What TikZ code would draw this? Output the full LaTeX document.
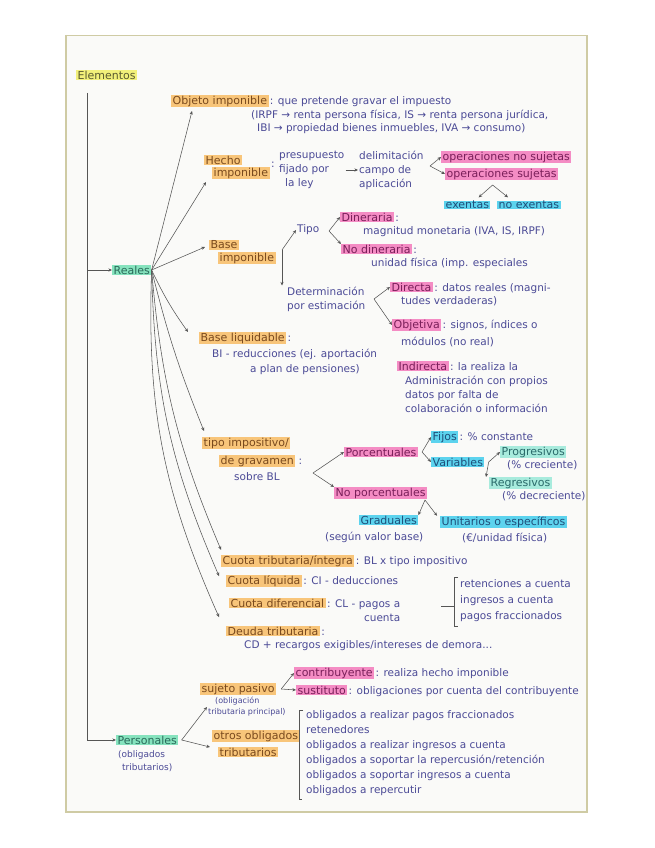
\documentclass[tikz,border=0pt]{standalone}
\usepackage{fontspec}
\setmainfont{DejaVu Sans}
\usetikzlibrary{arrows.meta,calc}
\definecolor{ink}{HTML}{4B4A96}
\definecolor{arrowc}{HTML}{555555}
\definecolor{hlor}{HTML}{F8C57A}
\definecolor{txor}{HTML}{7A4A1E}
\definecolor{hlpk}{HTML}{F48CC4}
\definecolor{txpk}{HTML}{7A1F5A}
\definecolor{hlcy}{HTML}{5CD3EE}
\definecolor{txcy}{HTML}{1F4F7A}
\definecolor{hlgr}{HTML}{86E3BE}
\definecolor{txgr}{HTML}{2A6A5A}
\definecolor{hlye}{HTML}{F2F07A}
\definecolor{txye}{HTML}{5A5A30}
\definecolor{hlte}{HTML}{A8EBDD}
\definecolor{txte}{HTML}{2A6A6A}
\definecolor{paperc}{HTML}{FAFAF8}
\definecolor{edgec}{HTML}{CFCBA4}
\newcommand{\fbody}{\fontsize{10.5}{14}\selectfont}
\newcommand{\fhead}{\fontsize{11}{14}\selectfont}
\newcommand{\fsmall}{\fontsize{8}{11}\selectfont}
\newcommand{\fnote}{\fontsize{9}{13}\selectfont}
\newcommand{\flist}{\fontsize{10.5}{15}\selectfont}
\newcommand{\fpagos}{\fontsize{10.5}{16}\selectfont}
\begin{document}
\begin{tikzpicture}[x=1pt,y=-1pt,
  tx/.style={anchor=west,inner sep=1pt,text=ink,font=\fbody},
  hlbase/.style={anchor=west,inner xsep=1.5pt,inner ysep=0.5pt,font=\fhead},
  hlo/.style={hlbase,fill=hlor,text=txor},
  hlp/.style={hlbase,fill=hlpk,text=txpk},
  hlc/.style={hlbase,fill=hlcy,text=txcy},
  hlg/.style={hlbase,fill=hlgr,text=txgr},
  hly/.style={hlbase,fill=hlye,text=txye},
  hlt/.style={hlbase,fill=hlte,text=txte},
  arr/.style={draw=arrowc,line width=0.55pt,-{Stealth[length=3.6pt,width=3.2pt]}},
  ln/.style={draw=arrowc,line width=0.55pt}]
\useasboundingbox (0,0) rectangle (655,848);
% paper
\fill[white] (0,0) rectangle (655,848);
\fill[paperc] (66,35) rectangle (587,812);
\draw[edgec,line width=0.4pt] (66,35) -- (587,35);
\draw[edgec,line width=1.6pt] (66,35) -- (66,812) -- (587,812) -- (587,35);

% title and spine
\node[hly] (elem) at (76,75) {Elementos};
\coordinate (spinetop) at (87,93);
\coordinate (spinemid) at (87,270);
\coordinate (spinebot) at (87,740);
\node[hlg] (reales) at (112,270) {Reales};
\node[hlg] (pers) at (116,740) {Personales};
\node[tx,align=left,font=\fnote] (persnote) at (117,761) {(obligados\\\hspace{4pt}tributarios)};
\draw[ln] (spinetop) -- (spinebot);
\draw[arr] (spinemid) -- (reales.west);
\draw[arr] (spinebot) -- (pers.west);

% Objeto imponible
\node[hlo] (obj) at (171,101) {Objeto imponible};
\node[tx,anchor=base west] (objdef) at (obj.base east) {: que pretende gravar el impuesto};
\node[tx] (obj2) at (250,115) {(IRPF → renta persona física, IS → renta persona jurídica,};
\node[tx] (obj3) at (256,129) {IBI → propiedad bienes inmuebles, IVA → consumo)};

% Hecho imponible
\node[hlo] (hecho1) at (204,160) {Hecho};
\node[hlo] (hecho2) at (212,173) {imponible};
\node[tx] (hcolon) at (270,165) {:};
\node[tx,align=left] (presup) at (278,170) {presupuesto\\fijado por\\\hspace{6pt}la ley};
\node[tx,align=left] (delim) at (358,170) {delimitación\\campo de\\aplicación};
\draw[arr] (presup.east) -- (delim.west);
\coordinate (hv) at (430,166);
\node[hlp] (opns) at (441,157) {operaciones no sujetas};
\node[hlp] (ops) at (445,174) {operaciones sujetas};
\draw[arr] (hv) -- (opns.west);
\draw[arr] (hv) -- (ops.west);
\coordinate (sv) at ([xshift=-9pt,yshift=-5pt]ops.south);
\node[hlc] (exentas) at (444,205) {exentas};
\node[hlc] (noexentas) at (497,205) {no exentas};
\draw[arr] (sv) -- ([xshift=-12pt,yshift=3pt]exentas.north east);
\draw[arr] (sv) -- ([xshift=11pt,yshift=3pt]noexentas.north west);

% Base imponible
\node[hlo] (bi1) at (209,245) {Base};
\node[hlo] (bi2) at (218,258) {imponible};
\coordinate (biv) at (282,250);
\node[tx] (tipo) at (296,230) {Tipo};
\node[tx,align=left] (det) at (286,299) {Determinación\\por estimación};
\draw[arr] (biv) -- (tipo.west);
\draw[arr] (biv) -- ([xshift=-4pt]det.north west);
\coordinate (tv) at (329,231);
\node[hlp] (din) at (340,217) {Dineraria};
\node[tx,anchor=base west] (dincol) at (din.base east) {:};
\node[tx] (dindef) at (362,232) {magnitud monetaria (IVA, IS, IRPF)};
\node[hlp] (nodin) at (341,249) {No dineraria};
\node[tx,anchor=base west] (nodincol) at (nodin.base east) {:};
\node[tx] (nodindef) at (370,263) {unidad física (imp. especiales};
\draw[arr] (tv) -- (din.west);
\draw[arr] (tv) -- (nodin.north west);
\coordinate (dv) at (374,299);
\node[hlp] (dir) at (390,287) {Directa};
\node[tx,anchor=base west] (dirdef) at (dir.base east) {: datos reales (magni-};
\node[tx] (dir2) at (400,301) {tudes verdaderas)};
\node[hlp] (obv) at (392,325) {Objetiva};
\node[tx,anchor=base west] (obvdef) at (obv.base east) {: signos, índices o};
\node[tx] (obv2) at (400,342) {módulos (no real)};
\draw[arr] (dv) -- (dir.west);
\draw[arr] (dv) -- (obv.west);
\node[hlp] (ind) at (397,366) {Indirecta};
\node[tx,anchor=base west] (inddef) at (ind.base east) {: la realiza la};
\node[tx,align=left] (ind2) at (404,394) {Administración con propios\\datos por falta de\\colaboración o información};

% Base liquidable
\node[hlo] (bl) at (199,338) {Base liquidable};
\node[tx,anchor=base west] (blcol) at (bl.base east) {:};
\node[tx] (bl2) at (211,354) {BI - reducciones (ej. aportación};
\node[tx] (bl3) at (249,370) {a plan de pensiones)};

% Tipo impositivo
\node[hlo] (ti1) at (202,443) {tipo impositivo/};
\node[hlo] (ti2) at (219,461) {de gravamen};
\node[tx,anchor=base west] (ti2col) at (ti2.base east) {\,:};
\node[tx] (ti3) at (233,477) {sobre BL};
\coordinate (tiv) at (313,473);
\node[hlp] (porc) at (344,452) {Porcentuales};
\node[hlp] (nporc) at (334,493) {No porcentuales};
\draw[arr] (tiv) -- (porc.west);
\draw[arr] (tiv) -- (nporc.north west);
\coordinate (pv) at ([xshift=4pt]porc.east);
\node[hlc] (fijos) at (431,437) {Fijos};
\node[tx,anchor=base west] (fijosdef) at (fijos.base east) {: \% constante};
\node[hlc] (var) at (431,462) {Variables};
\draw[arr] (pv) -- (fijos.west);
\draw[arr] (pv) -- (var.west);
\coordinate (vv) at ([xshift=4pt]var.east);
\node[hlt] (prog) at (500,452) {Progresivos};
\node[tx] (prog2) at (506,465) {(\% creciente)};
\node[hlt] (reg) at (489,483) {Regresivos};
\node[tx] (reg2) at (501,496) {(\% decreciente)};
\draw[arr] (vv) -- (prog.west);
\draw[arr] (vv) -- ([xshift=-3pt]reg.north west);
\coordinate (nv) at (425,500);
\node[hlc] (grad) at (359,520) {Graduales};
\node[tx] (grad2) at (324,537) {(según valor base)};
\node[hlc] (unit) at (440,522) {Unitarios o específicos};
\node[tx] (unit2) at (461,538) {(€/unidad física)};
\draw[arr] (nv) -- (grad.north east);
\draw[arr] (nv) -- ([xshift=-3pt]unit.north west);

% Cuotas
\node[hlo] (ct) at (221,561) {Cuota tributaria/íntegra};
\node[tx,anchor=base west] (ctdef) at (ct.base east) {: BL x tipo impositivo};
\node[hlo] (cl) at (226,581) {Cuota líquida};
\node[tx,anchor=base west] (cldef) at (cl.base east) {: CI - deducciones};
\node[hlo] (cd) at (229,603) {Cuota diferencial};
\node[tx,anchor=base west] (cddef) at (cd.base east) {: CL - pagos a};
\node[tx,anchor=north east] (cddef2) at ([yshift=-2pt]cddef.south east) {cuenta};
\node[tx,align=left,font=\fpagos] (pagos) at (459,601) {retenciones a cuenta\\ingresos a cuenta\\pagos fraccionados};
\coordinate (ptl) at ([xshift=-5pt,yshift=1pt]pagos.north west);
\coordinate (pbl) at ([xshift=-5pt,yshift=-3pt]pagos.south west);
\draw[ln] ([xshift=4pt]ptl) -- (ptl) -- (pbl) -- ([xshift=4pt]pbl);
\coordinate (pmid) at ($(ptl)!0.58!(pbl)$);
\draw[ln] ([xshift=-13pt]pmid) -- (pmid);
\node[hlo] (dt) at (226,631) {Deuda tributaria};
\node[tx,anchor=base west] (dtcol) at (dt.base east) {:};
\node[tx] (dt2) at (243,646) {CD + recargos exigibles/intereses de demora...};

% Reales fan
\draw[arr] (reales.east) -- ([xshift=21pt,yshift=-4pt]obj.south west);
\draw[arr] (reales.east) -- ([xshift=-6pt,yshift=-3pt]hecho2.south west);
\draw[arr] (reales.east) -- ([xshift=-4pt,yshift=-2pt]bi1.west);
\draw[arr] (reales.east) to[bend right=5] ([xshift=-11pt]bl.north west);
\draw[arr] (reales.east) to[bend right=4] ([xshift=2pt,yshift=6pt]ti1.north west);
\draw[arr] (reales.east) to[bend right=9] ([yshift=5pt]ct.north west);
\draw[arr] (reales.east) to[bend right=11] ([xshift=-7pt,yshift=5pt]cl.west);
\draw[arr] (reales.east) to[bend right=13] ([xshift=-7pt,yshift=9pt]dt.north west);

% Personales
\node[hlo] (sp) at (200,689) {sujeto pasivo};
\node[tx,align=left,font=\fsmall] (spnote) at (207,707) {\hspace{7pt}(obligación\\tributaria principal)};
\coordinate (spv) at ([xshift=5pt]sp.east);
\node[hlp] (contrib) at (294,673) {contribuyente};
\node[tx,anchor=base west] (contribdef) at (contrib.base east) {: realiza hecho imponible};
\node[hlp] (sust) at (296,690) {sustituto};
\node[tx,anchor=base west] (sustdef) at (sust.base east) {: obligaciones por cuenta del contribuyente};
\draw[arr] (spv) -- (contrib.west);
\draw[arr] (spv) -- (sust.west);
\node[hlo] (oo1) at (212,736) {otros obligados};
\node[hlo] (oo2) at (218,752) {tributarios};
\coordinate (pv2) at ([xshift=3pt]pers.east);
\draw[arr] (pv2) -- (spnote.west);
\draw[arr] (pv2) -- ([xshift=-8pt]oo2.north west);
\node[tx,align=left,font=\flist] (oolist) at (305,753) {obligados a realizar pagos fraccionados\\retenedores\\obligados a realizar ingresos a cuenta\\obligados a soportar la repercusión/retención\\obligados a soportar ingresos a cuenta\\obligados a repercutir};
\coordinate (otl) at ([xshift=-6pt,yshift=-1pt]oolist.north west);
\coordinate (obl) at ([xshift=-6pt,yshift=-2pt]oolist.south west);
\draw[ln] ([xshift=4pt]otl) -- (otl) -- (obl) -- ([xshift=3pt]obl);
\end{tikzpicture}
\end{document}
